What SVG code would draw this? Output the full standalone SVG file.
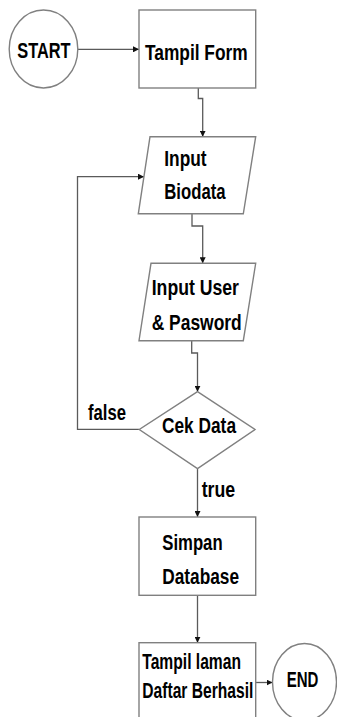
<svg xmlns="http://www.w3.org/2000/svg" width="337" height="717" viewBox="0 0 337 717">
<style>
.shape{fill:#ffffff;stroke:#808080;stroke-width:1.4}
.edge{fill:none;stroke:#5a5a5a;stroke-width:1.3}
.t{font-family:"Liberation Sans",Arial,sans-serif;font-weight:bold;font-size:22.5px;fill:#000000}
</style>
<defs>
<marker id="arr" markerUnits="userSpaceOnUse" markerWidth="6" markerHeight="6" viewBox="0 0 6 6" refX="6" refY="3" orient="auto">
<path d="M0,0 L6,3 L0,6 Z" fill="#111111"/>
</marker>
</defs>
<rect width="337" height="717" fill="#ffffff"/>
<g id="connectors">
<path class="edge" d="M77.8,49.3 H139" marker-end="url(#arr)"/>
<path class="edge" d="M198.3,88 V98.5 H202.7 V136.7" marker-end="url(#arr)"/>
<path class="edge" d="M192,214 V226 H202.7 V263.3" marker-end="url(#arr)"/>
<path class="edge" d="M191.7,340.7 V353 H197.5 V391.7" marker-end="url(#arr)"/>
<path class="edge" d="M197.5,469 V517" marker-end="url(#arr)"/>
<path class="edge" d="M139,429.3 H77.5 V176.7 H144" marker-end="url(#arr)"/>
<path class="edge" d="M197.5,595.3 V642.7" marker-end="url(#arr)"/>
<path class="edge" d="M255.7,682.5 H272.5" marker-end="url(#arr)"/>
<text class="t" x="88" y="419.5" textLength="38" lengthAdjust="spacingAndGlyphs">false</text>
<text class="t" x="201.7" y="497" textLength="33.5" lengthAdjust="spacingAndGlyphs">true</text>
</g>
<g id="start">
<ellipse class="shape" cx="43.5" cy="49" rx="34.3" ry="39"/>
<text class="t" x="17.3" y="58.3" font-size="25.5" textLength="53.3" lengthAdjust="spacingAndGlyphs">START</text>
</g>
<g id="tampil-form">
<rect class="shape" x="139" y="10" width="116.7" height="78"/>
<text class="t" x="145" y="60" font-size="24" textLength="102.7" lengthAdjust="spacingAndGlyphs">Tampil Form</text>
</g>
<g id="input-biodata">
<polygon class="shape" points="150,136.7 255.7,136.7 243.3,213.8 138.3,213.8"/>
<text class="t" x="164.3" y="165.7" textLength="42.3" lengthAdjust="spacingAndGlyphs">Input</text>
<text class="t" x="164.3" y="199.3" textLength="61.3" lengthAdjust="spacingAndGlyphs">Biodata</text>
</g>
<g id="input-user">
<polygon class="shape" points="151,263.3 255.7,263.3 243.3,340.7 139,340.7"/>
<text class="t" x="151.7" y="295" textLength="87.3" lengthAdjust="spacingAndGlyphs">Input User</text>
<text class="t" x="151.7" y="330" textLength="90" lengthAdjust="spacingAndGlyphs">&amp; Pasword</text>
</g>
<g id="cek-data">
<polygon class="shape" points="197.5,391.7 255,429.5 197.5,468.7 139.3,429.5"/>
<text class="t" x="162" y="433.3" textLength="74" lengthAdjust="spacingAndGlyphs">Cek Data</text>
</g>
<g id="simpan-database">
<rect class="shape" x="139" y="517" width="116.7" height="78.3"/>
<text class="t" x="162.3" y="549.7" textLength="60.3" lengthAdjust="spacingAndGlyphs">Simpan</text>
<text class="t" x="162.3" y="583.7" textLength="76.7" lengthAdjust="spacingAndGlyphs">Database</text>
</g>
<g id="tampil-laman">
<rect class="shape" x="139" y="642.7" width="116.7" height="80"/>
<text class="t" x="142.3" y="669.3" textLength="98.7" lengthAdjust="spacingAndGlyphs">Tampil laman</text>
<text class="t" x="142.3" y="698.3" textLength="111" lengthAdjust="spacingAndGlyphs">Daftar Berhasil</text>
</g>
<g id="end">
<ellipse class="shape" cx="304.5" cy="682" rx="32" ry="38.5"/>
<text class="t" x="286.7" y="686.7" textLength="31.7" lengthAdjust="spacingAndGlyphs">END</text>
</g>
</svg>
